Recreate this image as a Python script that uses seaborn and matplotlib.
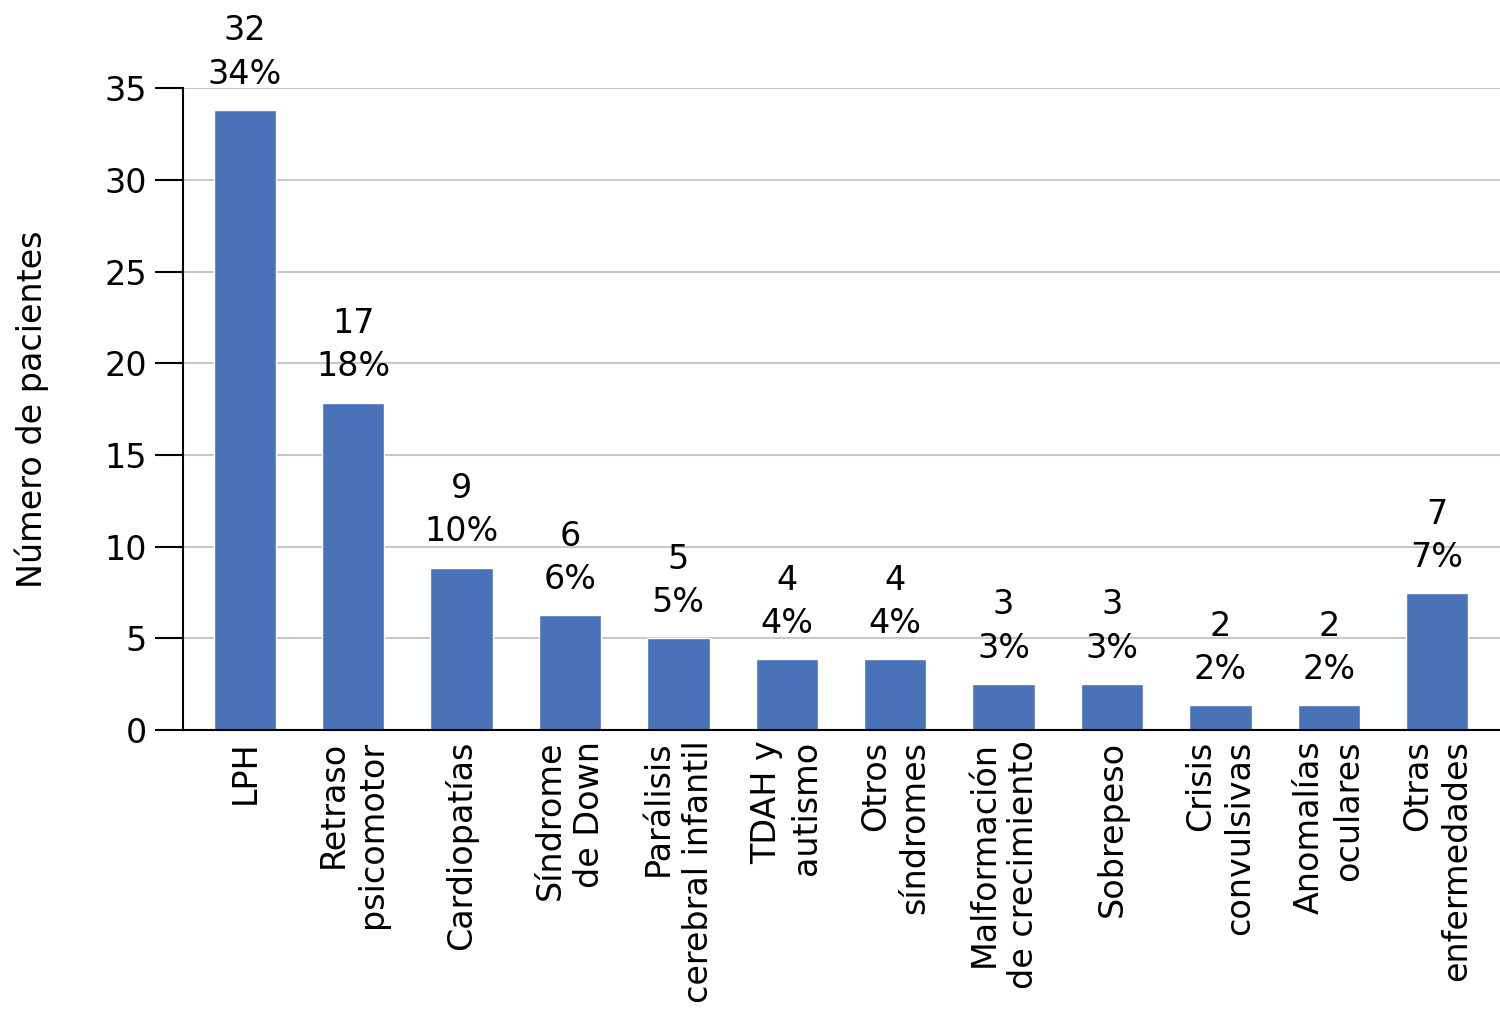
import matplotlib
matplotlib.use("Agg")
import pandas as pd
import matplotlib.pyplot as plt
import seaborn as sns

# categories, bar heights (as drawn), counts and percent labels
categorias = ["LPH", "Retraso\npsicomotor", "Cardiopatías", "Síndrome\nde Down",
              "Parálisis\ncerebral infantil", "TDAH y\nautismo", "Otros\nsíndromes",
              "Malformación\nde crecimiento", "Sobrepeso", "Crisis\nconvulsivas",
              "Anomalías\noculares", "Otras\nenfermedades"]
alturas = [33.8, 17.85, 8.85, 6.25, 5.0, 3.85, 3.85, 2.5, 2.5, 1.35, 1.35, 7.45]
pacientes = [32, 17, 9, 6, 5, 4, 4, 3, 3, 2, 2, 7]
porcentajes = ["34%", "18%", "10%", "6%", "5%", "4%", "4%", "3%", "3%", "2%", "2%", "7%"]

df = pd.DataFrame({"categoria": categorias, "altura": alturas})

sns.set_style("white")
plt.rcParams["font.family"] = ["DejaVu Sans"]
plt.rcParams["text.color"] = "black"
plt.rcParams["axes.labelcolor"] = "black"
plt.rcParams["xtick.color"] = "black"
plt.rcParams["ytick.color"] = "black"

fig = plt.figure(figsize=(15, 10.24), dpi=100)
ax = fig.add_axes([0.122, 0.287, 0.878, 0.627])

sns.barplot(data=df, x="categoria", y="altura", color="#4A72B8",
            saturation=1, width=0.575, ax=ax)

ax.set_ylim(0, 35)
ax.set_xlim(-0.57, 11.58)
ax.set_yticks(range(0, 36, 5))
ax.yaxis.grid(True, color="#c8c8c8", linewidth=1.5)
ax.set_axisbelow(True)

for s in ["top", "right"]:
    ax.spines[s].set_visible(False)
ax.spines["left"].set_color("black")
ax.spines["bottom"].set_color("black")
ax.spines["left"].set_linewidth(1.5)
ax.spines["bottom"].set_linewidth(1.5)

ax.tick_params(axis="y", left=True, length=20, width=1.5, labelsize=24, pad=6)
ax.tick_params(axis="x", bottom=False, labelsize=24, pad=4)
plt.setp(ax.get_xticklabels(), rotation=90, va="top", ha="center",
         multialignment="right", linespacing=1.25)

ax.set_xlabel("")
ax.set_ylabel("Número de pacientes", fontsize=24, labelpad=40)

for i, (h, n, p) in enumerate(zip(alturas, pacientes, porcentajes)):
    ax.annotate(f"{n}\n{p}", xy=(i, h), xytext=(0, 14), textcoords="offset points",
                ha="center", va="bottom", fontsize=24, linespacing=1.4,
                annotation_clip=False)

fig.savefig("out.png", dpi=100)
